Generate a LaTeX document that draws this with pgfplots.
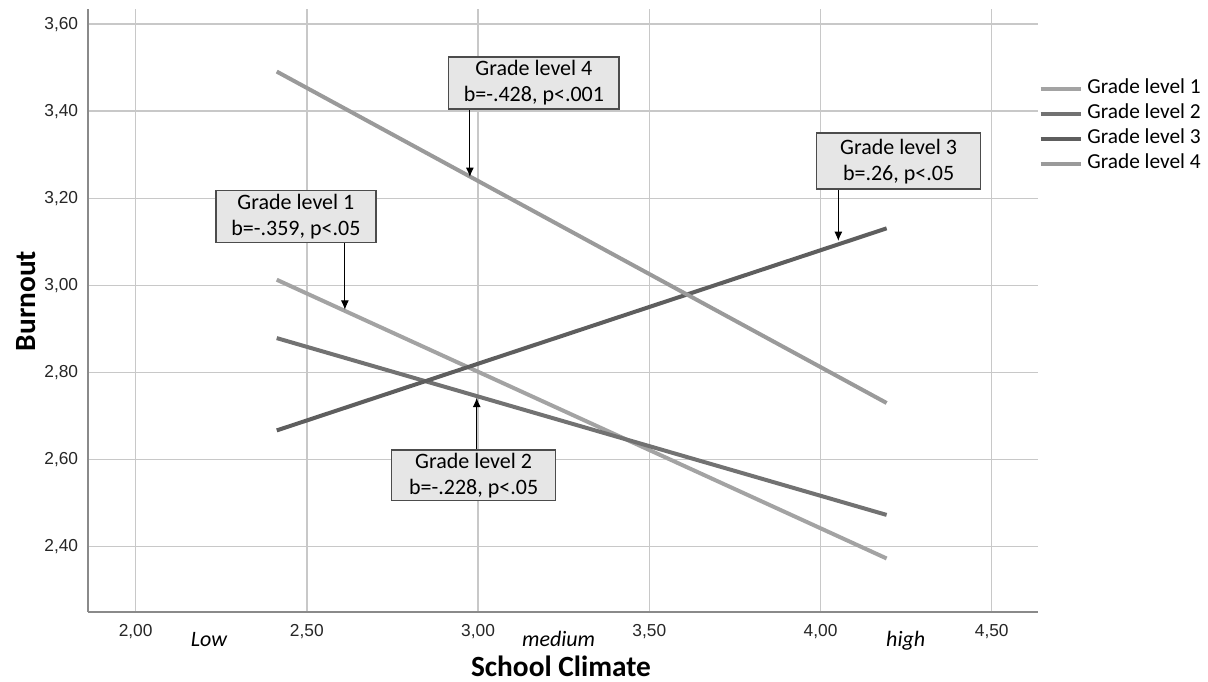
\documentclass[border=0pt]{standalone}
\usepackage{pgfplots}
\pgfplotsset{compat=1.18}
\usetikzlibrary{arrows.meta}
\usepackage{fontspec}
\setmainfont{Carlito}
\newfontfamily\arialfont{Liberation Sans}
\definecolor{gone}{HTML}{A3A3A3}
\definecolor{gtwo}{HTML}{727272}
\definecolor{gthree}{HTML}{5E5E5E}
\definecolor{gfour}{HTML}{9A9A9A}
\definecolor{boxfill}{HTML}{E6E6E6}
\definecolor{gridc}{HTML}{C8C8C8}
\definecolor{axc}{HTML}{8A8A8A}
\begin{document}
\begin{tikzpicture}
\useasboundingbox (0,0) rectangle (906pt,511.5pt);
\begin{axis}[
  at={(65.78pt,52.73pt)}, anchor=south west,
  scale only axis, width=712.7pt, height=451.8pt,
  xmin=1.86, xmax=4.635, ymin=2.2508, ymax=3.634,
  xtick={2,2.5,3,3.5,4,4.5},
  ytick={2.4,2.6,2.8,3.0,3.2,3.4,3.6},
  axis x line*=bottom, axis y line*=left,
  axis line style={-, draw=axc, line width=1.5pt},
  major tick length=0pt,
  grid=major,
  major grid style={draw=gridc, line width=1.1pt},
  /pgf/number format/.cd, fixed, fixed zerofill, precision=2, use comma, assume math mode=true,
  /pgfplots/.cd,
  xticklabel style={font=\arialfont\fontsize{13}{15}\selectfont, text=black!85, inner sep=0pt, anchor=north, yshift=-9.5pt},
  yticklabel style={font=\arialfont\fontsize{13}{15}\selectfont, text=black!85, inner sep=0pt, anchor=east, xshift=-7pt},
  clip=false,
  legend cell align=left,
  legend image code/.code={\draw[#1] (0pt,0pt) -- (30pt,0pt); \path (33.5pt,0pt);},
  legend style={at={(1.0005,0.8866)}, anchor=north west, draw=none, fill=none,
    font=\fontsize{16}{19}\selectfont, inner sep=0pt,
    nodes={inner sep=0pt, text height=12pt, text depth=4pt},
    row sep=2.75pt},
]
\addplot[gone, line width=3pt] coordinates {(2.412,3.013) (4.193,2.373)};
\addlegendentry{Grade level 1}
\addplot[gtwo, line width=3pt] coordinates {(2.412,2.879) (4.193,2.473)};
\addlegendentry{Grade level 2}
\addplot[gthree, line width=3pt] coordinates {(2.412,2.667) (4.193,3.131)};
\addlegendentry{Grade level 3}
\addplot[gfour, line width=3pt] coordinates {(2.412,3.491) (4.193,2.730)};
\addlegendentry{Grade level 4}

\draw[-{Latex[length=7pt,width=6pt]}, line width=0.8pt] (axis cs:2.976,3.405) -- (axis cs:2.976,3.249);
\draw[-{Latex[length=7pt,width=6pt]}, line width=0.8pt] (axis cs:2.611,3.098) -- (axis cs:2.611,2.944);
\draw[-{Latex[length=7pt,width=6pt]}, line width=0.8pt] (axis cs:2.996,2.622) -- (axis cs:2.996,2.742);
\draw[-{Latex[length=7pt,width=6pt]}, line width=0.8pt] (axis cs:4.052,3.221) -- (axis cs:4.052,3.102);

\tikzset{ann/.style={draw=black!70, line width=1.2pt, fill=boxfill, align=center, inner sep=0pt,
  font=\fontsize{16.5}{19.5}\selectfont}}
\node[ann, minimum width=128pt, minimum height=39pt] at (axis cs:3.163,3.4645) {Grade level 4\\b=-.428, p<.001};
\node[ann, minimum width=120pt, minimum height=39pt] at (axis cs:2.468,3.158) {Grade level 1\\b=-.359, p<.05};
\node[ann, minimum width=123pt, minimum height=38pt] at (axis cs:2.987,2.564) {Grade level 2\\b=-.228, p<.05};
\node[ann, minimum width=123pt, minimum height=42pt] at (axis cs:4.228,3.285) {Grade level 3\\b=.26, p<.05};
\end{axis}
\node[anchor=base, font=\fontsize{16.5}{19}\selectfont\itshape] at (156.75pt,26.25pt) {Low};
\node[anchor=base, font=\fontsize{16.5}{19}\selectfont\itshape] at (418.95pt,26.25pt) {medium};
\node[anchor=base, font=\fontsize{16.5}{19}\selectfont\itshape] at (679.3pt,26.25pt) {high};
\node[anchor=base, font=\fontsize{22}{26}\selectfont\bfseries] at (420.75pt,3.75pt) {School Climate};
\node[anchor=base, rotate=90, font=\fontsize{22}{26}\selectfont\bfseries] at (27pt,285.75pt) {Burnout};
\end{tikzpicture}
\end{document}
